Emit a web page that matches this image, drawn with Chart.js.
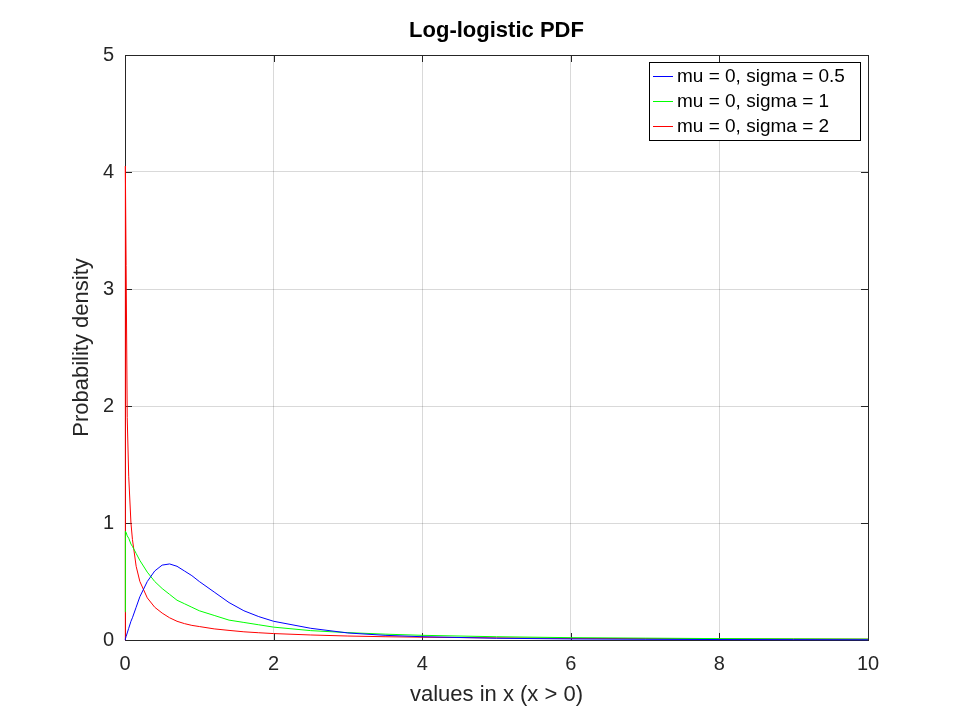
<!DOCTYPE html>
<html>
<head>
<meta charset="utf-8">
<script src="https://cdn.jsdelivr.net/npm/chart.js@4/dist/chart.umd.min.js"></script>
<style>
  html, body { margin: 0; padding: 0; background: #fff; }
  canvas { display: block; }
</style>
</head>
<body>
<canvas id="myChart" width="960" height="720"></canvas>
<script>
// values
const xs = [0, 0.005, 0.015, 0.03, 0.05, 0.08, 0.1, 0.15, 0.2, 0.3, 0.4, 0.5, 0.6, 0.7, 0.8, 0.9,
            1.0, 1.2, 1.4, 1.6, 1.8, 2.0, 2.5, 3.0, 3.5, 4, 5, 6, 7, 8, 9, 10];
const sigmaHalf = [0, 0.01, 0.03, 0.06, 0.10, 0.16, 0.19, 0.28, 0.37, 0.50, 0.59, 0.64, 0.65, 0.63, 0.59, 0.55,
                   0.50, 0.41, 0.32, 0.25, 0.20, 0.16, 0.10, 0.06, 0.04, 0.028, 0.015, 0.009, 0.006, 0.004, 0.003, 0.002];
const sigmaOne = [0.24, 0.93, 0.92, 0.89, 0.87, 0.82, 0.80, 0.74, 0.68, 0.58, 0.50, 0.44, 0.39, 0.34, 0.31, 0.28,
                  0.25, 0.21, 0.17, 0.15, 0.13, 0.11, 0.08, 0.063, 0.05, 0.04, 0.028, 0.02, 0.016, 0.012, 0.01, 0.008];
const sigmaTwo = [0, 4.05, 3.2, 1.9, 1.4, 1.0, 0.86, 0.63, 0.5, 0.36, 0.28, 0.23, 0.19, 0.16, 0.14, 0.125,
                  0.115, 0.095, 0.082, 0.07, 0.062, 0.055, 0.043, 0.034, 0.028, 0.024, 0.018, 0.014, 0.012, 0.01, 0.008, 0.007];
const seriesLabels = ['mu = 0, sigma = 0.5', 'mu = 0, sigma = 1', 'mu = 0, sigma = 2'];
const seriesColors = ['#0000ff', '#00ff00', '#ff0000'];
const xTicks = [0, 2, 4, 6, 8, 10];
const yTicks = [0, 1, 2, 3, 4, 5];
const chartTitle = 'Log-logistic PDF';

const axisColor = '#262626';
const fontFamily = '"Liberation Sans", Arial, sans-serif';

const ctx = document.getElementById('myChart').getContext('2d');

const datasets = [sigmaHalf, sigmaOne, sigmaTwo].map((vals, i) => ({
    label: seriesLabels[i],
    data: xs.map((x, j) => ({ x: x, y: vals[j] })),
    borderColor: seriesColors[i],
    backgroundColor: seriesColors[i],
    borderWidth: 1,
    pointRadius: 0,
    tension: 0,
    fill: false,
    clip: false
}));

// box, inward ticks, title and the legend, Octave style
const octaveFrame = {
    id: 'octaveFrame',
    beforeDatasetsDraw(chart) {
        const c = chart.ctx;
        const a = chart.chartArea;
        const sx = chart.scales.x, sy = chart.scales.y;
        c.save();
        c.strokeStyle = axisColor;
        c.lineWidth = 1;
        c.strokeRect(a.left + 0.5, a.top + 0.5, a.right - a.left, a.bottom - a.top);
        c.beginPath();
        xTicks.forEach(v => {
            const px = Math.round(sx.getPixelForValue(v)) + 0.5;
            c.moveTo(px, a.bottom); c.lineTo(px, a.bottom - 7);
            c.moveTo(px, a.top); c.lineTo(px, a.top + 7);
        });
        yTicks.forEach(v => {
            const py = Math.round(sy.getPixelForValue(v)) + 0.5;
            c.moveTo(a.left, py); c.lineTo(a.left + 7, py);
            c.moveTo(a.right, py); c.lineTo(a.right - 7, py);
        });
        c.stroke();
        c.restore();
    },
    afterDraw(chart) {
        const c = chart.ctx;
        const a = chart.chartArea;
        c.save();
        c.fillStyle = '#000';
        c.font = 'bold 22px ' + fontFamily;
        c.textAlign = 'center';
        c.textBaseline = 'middle';
        c.fillText(chartTitle, (a.left + a.right) / 2, 31);

        const bx = 649.5, by = 62.5, bw = 211, bh = 78;
        c.fillStyle = '#fff';
        c.fillRect(bx, by, bw, bh);
        c.strokeStyle = '#000';
        c.lineWidth = 1;
        c.strokeRect(bx, by, bw, bh);
        c.font = '19px ' + fontFamily;
        c.textAlign = 'left';
        chart.data.datasets.forEach((ds, i) => {
            const y = 76 + i * 25;
            c.strokeStyle = ds.borderColor;
            c.beginPath();
            c.moveTo(653, y + 0.5);
            c.lineTo(673, y + 0.5);
            c.stroke();
            c.fillStyle = '#000';
            c.fillText(ds.label, 677, y + 1);
        });
        c.restore();
    }
};

new Chart(ctx, {
    type: 'line',
    data: { datasets: datasets },
    options: {
        responsive: false,
        animation: false,
        devicePixelRatio: 1,
        layout: { padding: { top: 55, right: 92, bottom: 0, left: 0 } },
        plugins: {
            legend: { display: false },
            tooltip: { enabled: false },
            title: { display: false }
        },
        scales: {
            x: {
                type: 'linear',
                min: 0,
                max: 10,
                afterBuildTicks: s => { s.ticks = xTicks.map(v => ({ value: v })); },
                afterFit: s => { s.height = 80; },
                ticks: { color: axisColor, font: { family: fontFamily, size: 20 }, padding: 12, maxRotation: 0 },
                grid: { color: 'rgba(0,0,0,0.15)', drawTicks: false },
                border: { color: axisColor },
                title: {
                    display: true,
                    text: 'values in x (x > 0)',
                    color: axisColor,
                    font: { family: fontFamily, size: 22 },
                    padding: { top: 0, bottom: 12 }
                }
            },
            y: {
                type: 'linear',
                min: 0,
                max: 5,
                afterBuildTicks: s => { s.ticks = yTicks.map(v => ({ value: v })); },
                afterFit: s => { s.width = 125; },
                ticks: { color: axisColor, font: { family: fontFamily, size: 20 }, padding: 11 },
                grid: { color: 'rgba(0,0,0,0.15)', drawTicks: false },
                border: { color: axisColor },
                title: {
                    display: true,
                    text: 'Probability density',
                    color: axisColor,
                    font: { family: fontFamily, size: 22 },
                    padding: { top: 69, bottom: 0 }
                }
            }
        }
    },
    plugins: [octaveFrame]
});
</script>
</body>
</html>
